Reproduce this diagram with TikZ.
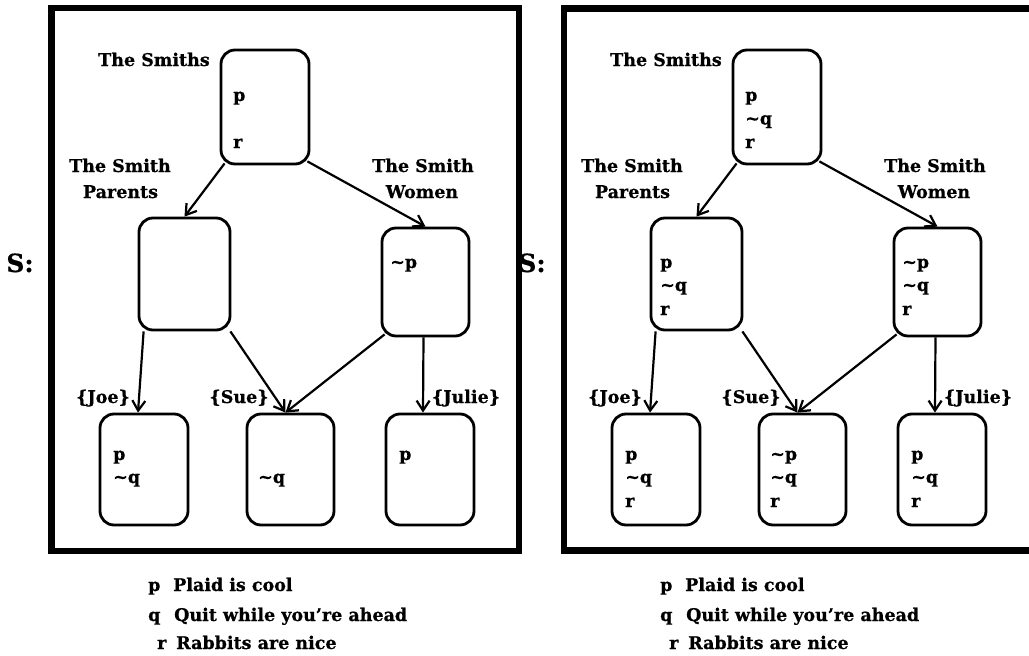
\documentclass[tikz,border=0pt]{standalone}
\usepackage{fontspec}
\setmainfont{DejaVu Serif}[BoldFeatures={FakeBold=0.6}]
\usetikzlibrary{arrows.meta}
\newcommand{\negs}{\textasciitilde}
\newcommand{\panelcommon}{%
  \node[box, minimum width=88pt, minimum height=114pt] (top) at (265,107) {};
  \node[box, minimum width=91pt, minimum height=112pt] (par) at (184.5,274) {};
  \node[box, minimum width=87pt, minimum height=108pt] (wom) at (425.5,282) {};
  \node[box, minimum width=88pt, minimum height=111pt] (joe) at (144,469.5) {};
  \node[box, minimum width=87pt, minimum height=111pt] (sue) at (290.5,469.5) {};
  \node[box, minimum width=88pt, minimum height=111pt] (jul) at (430,469.5) {};
  \node[big] (S) at (20,272) {S:};
  \node[lbl] (smiths) at (154,66) {The Smiths};
  \node[lbl] (pl1) at (120,172) {The Smith};
  \node[lbl] (pl2) at (120.5,198) {Parents};
  \node[lbl] (wl1) at (423,172) {The Smith};
  \node[lbl] (wl2) at (422,198) {Women};
  \node[lbl] (joel) at (103,403) {\{Joe\}};
  \node[lbl] (suel) at (239,403) {\{Sue\}};
  \node[lbl] (jull) at (466,403) {\{Julie\}};
  \draw[arr] ([shift={(5,-2)}]top.south west) -- (par.north);
  \draw[arr] ([shift={(-3,-4)}]top.south east) -- (wom.north);
  \draw[arr] ([shift={(6,0)}]par.south west) -- ([xshift=-6pt]joe.north);
  \draw[arr] ([shift={(-1,0)}]par.south east) -- ([xshift=-5pt]sue.north);
  \draw[arr] ([shift={(4,-3)}]wom.south west) -- ([xshift=-5pt]sue.north);
  \draw[arr] ([xshift=-2pt]wom.south) -- ([xshift=-7pt]jul.north);
  \node[txt] (kp) at (148,591) {p};
  \node[txt] (kq) at (148,621) {q};
  \node[txt] (kr) at (157,649) {r};
  \node[txt] (dp) at (173,591) {Plaid is cool};
  \node[txt] (dq) at (174,621) {Quit while you’re ahead};
  \node[txt] (dr) at (176,649) {Rabbits are nice};
}
\begin{document}
\begin{tikzpicture}[x=1pt,y=-1pt,
  box/.style={draw, line width=2.8pt, rounded corners=14pt, inner sep=0pt},
  lbl/.style={font=\bfseries\fontsize{17.5}{20}\selectfont, inner sep=0pt, anchor=base},
  txt/.style={font=\bfseries\fontsize{17.5}{20}\selectfont, inner sep=0pt, anchor=base west},
  big/.style={font=\bfseries\fontsize{25}{29}\selectfont, inner sep=0pt, anchor=base},
  arr/.style={line width=2.2pt, -{Straight Barb[length=10pt,width=13pt]}},
  frame/.style={line width=6.5pt}]
\useasboundingbox (0,0) rectangle (1029,656);
\clip (0,0) rectangle (1029,656);
\fill[white] (0,0) rectangle (1029,656);
\draw[frame] (51.5,8) rectangle (519,551);
\draw[frame] (1040,8.5) -- (564,8.5) -- (564,550.5) -- (1040,550.5);
\begin{scope}[name prefix=L-]
  \panelcommon
  \node[txt] (t1) at (233,101) {p};
  \node[txt] (t3) at (233,148) {r};
  \node[txt] (w1) at (390,268) {\negs p};
  \node[txt] (j1) at (113,460) {p};
  \node[txt] (j2) at (113,483) {\negs q};
  \node[txt] (s2) at (258,483) {\negs q};
  \node[txt] (u1) at (399,460) {p};
\end{scope}
\begin{scope}[xshift=512pt, name prefix=R-]
  \panelcommon
  \node[txt] (t1) at (233,101) {p};
  \node[txt] (t2) at (233,124.5) {\negs q};
  \node[txt] (t3) at (233,148) {r};
  \node[txt] (p1) at (148,268) {p};
  \node[txt] (p2) at (148,291) {\negs q};
  \node[txt] (p3) at (148,315) {r};
  \node[txt] (w1) at (390,268) {\negs p};
  \node[txt] (w2) at (390,291) {\negs q};
  \node[txt] (w3) at (390,315) {r};
  \node[txt] (j1) at (113,460) {p};
  \node[txt] (j2) at (113,483) {\negs q};
  \node[txt] (j3) at (113,507) {r};
  \node[txt] (s1) at (258,460) {\negs p};
  \node[txt] (s2) at (258,483) {\negs q};
  \node[txt] (s3) at (258,507) {r};
  \node[txt] (u1) at (399,460) {p};
  \node[txt] (u2) at (399,483) {\negs q};
  \node[txt] (u3) at (399,507) {r};
\end{scope}
\end{tikzpicture}
\end{document}
